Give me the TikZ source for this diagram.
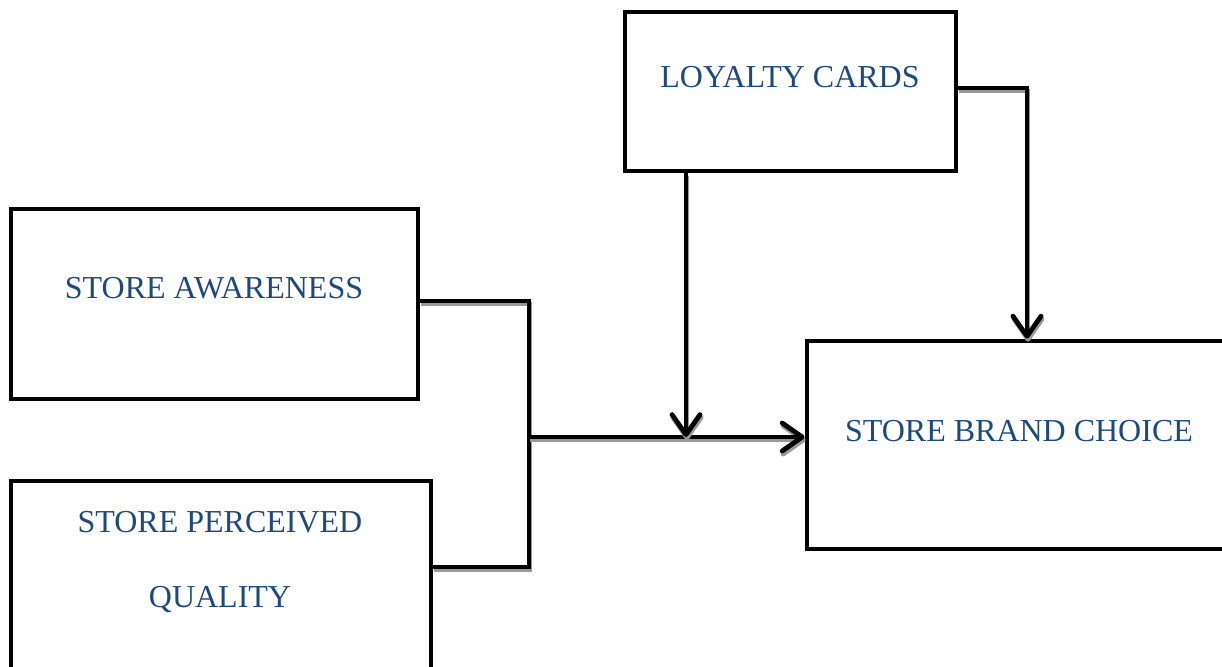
\documentclass[tikz,border=0pt]{standalone}
\usepackage{fontspec}
\setmainfont{Liberation Serif}
\usetikzlibrary{arrows.meta}

\definecolor{labelblue}{RGB}{31,73,125}

\tikzset{
  box/.style={draw, line width=2.4pt, inner sep=0pt},
  lbl/.style={text=labelblue, font=\fontsize{16}{19}\selectfont, anchor=base},
  conn/.style={line width=2.4pt,
    preaction={draw=black!40, line width=2.4pt, transform canvas={shift={(0.5pt,-1.5pt)}}}},
  arr/.style={conn, -{Straight Barb[length=10pt,width=14pt,line width=2.4pt,round]}}
}

\begin{document}
\begin{tikzpicture}[x=0.5pt, y=-0.5pt]
  \clip (0,0) rectangle (1222,666);
  \useasboundingbox (0,0) rectangle (1222,666);

  % boxes
  \node[box, minimum width=203.5pt, minimum height=95pt] (aware) at (214.5,304) {};
  \node[box, minimum width=210pt, minimum height=139.5pt] (quality) at (221,620.5) {};
  \node[box, minimum width=165.5pt, minimum height=79.5pt] (loyal) at (790.5,91.5) {};
  \node[box, minimum width=216.5pt, minimum height=104pt] (brand) at (1023.5,445) {};

  % labels
  \node[lbl] (awaretxt) at (214,298) {STORE AWARENESS};
  \node[lbl] (perctxt) at (220,532) {STORE PERCEIVED};
  \node[lbl] (qualtxt) at (220,607) {QUALITY};
  \node[lbl] (loyaltxt) at (790,87) {LOYALTY CARDS};
  \node[lbl] (brandtxt) at (1019,441) {STORE BRAND CHOICE};

  % junction points
  \coordinate (j1) at (529,301);
  \coordinate (j2) at (529,567);
  \coordinate (m) at (529,437);
  \coordinate (ld) at (686,437);
  \coordinate (lr) at (1027,88);

  % connectors
  \draw[conn] (aware.east |- j1) -- (j1) -- (j2) -- (quality.east |- j2);
  \draw[arr] (m) -- (brand.west |- m);
  \draw[arr] (ld |- loyal.south) -- (ld);
  \draw[arr] (loyal.east |- lr) -- (lr) -- (lr |- brand.north);
\end{tikzpicture}
\end{document}
